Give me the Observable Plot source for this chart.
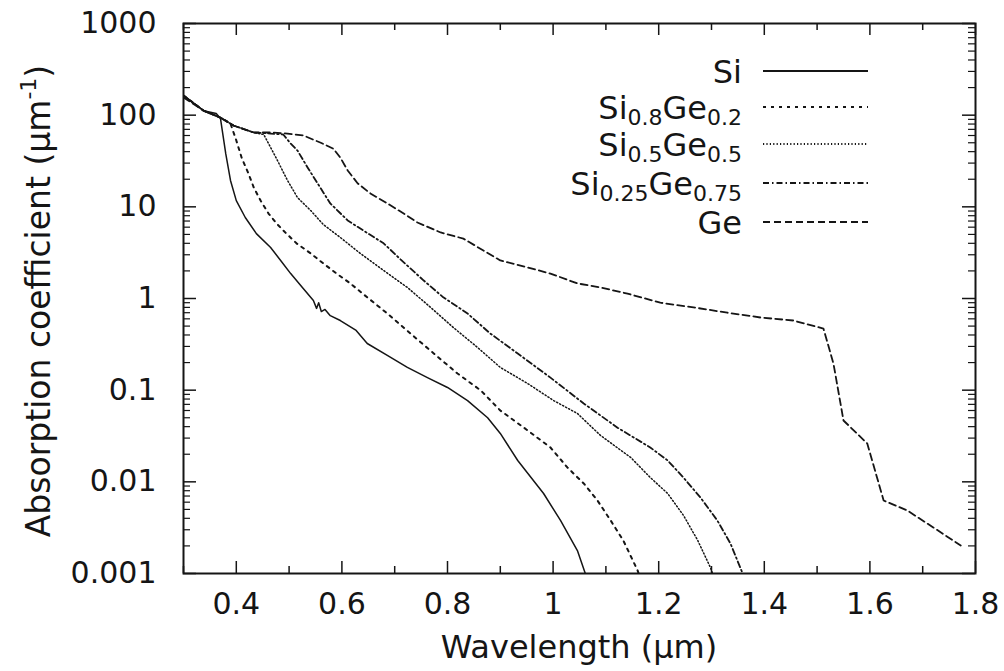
<!DOCTYPE html>
<html><head><meta charset="utf-8">
<script src="https://cdn.jsdelivr.net/npm/d3@7"></script>
<script src="https://cdn.jsdelivr.net/npm/@observablehq/plot@0.6"></script>
<style>
body{margin:0;background:#fff}
#wrap{position:relative;width:1004px;height:671px}
#wrap svg{position:absolute;left:0;top:0}
</style>
</head><body><div id="wrap"></div>
<script>
// ---- data (wavelength in µm, absorption coefficient in µm^-1) ----
const siW = [0.300,0.338,0.362,0.370,0.380,0.389,0.400,0.417,0.438,0.465,0.484,0.503,0.522,0.546,0.552,0.556,0.561,0.568,0.578,0.597,0.627,0.648,0.686,0.724,0.762,0.800,0.838,0.876,0.900,0.933,0.982,1.014,1.046,1.061];
const siA = [164,112,104,92,38,19.4,11.7,7.65,5.1,3.6,2.6,1.87,1.39,0.95,0.78,0.90,0.72,0.76,0.65,0.575,0.448,0.323,0.239,0.177,0.137,0.107,0.077,0.050,0.0337,0.0171,0.00746,0.00379,0.00178,0.001];

const s08W = [0.300,0.338,0.370,0.389,0.400,0.410,0.423,0.433,0.446,0.461,0.476,0.495,0.514,0.541,0.565,0.590,0.616,0.648,0.686,0.730,0.774,0.819,0.863,0.900,0.952,0.995,1.027,1.058,1.084,1.109,1.133,1.160,1.162];
const s08A = [164,112,94,81,53,34.5,23.1,16.3,11.7,8.45,6.6,5.1,4.0,3.1,2.41,1.87,1.46,1.03,0.686,0.415,0.251,0.152,0.0993,0.060,0.0363,0.0237,0.01435,0.0096,0.00626,0.00379,0.00229,0.00108,0.001];

const s05W = [0.300,0.338,0.370,0.395,0.433,0.452,0.465,0.478,0.497,0.516,0.541,0.565,0.597,0.635,0.679,0.724,0.768,0.811,0.857,0.900,0.952,1.001,1.046,1.090,1.147,1.184,1.217,1.247,1.274,1.298,1.302];
const s05A = [164,112,94,77,64.7,61.5,44.4,32,19.4,12.6,9.1,6.4,4.63,3.1,2.02,1.32,0.80,0.483,0.292,0.177,0.118,0.077,0.0557,0.032,0.01845,0.01115,0.00746,0.0043,0.00229,0.00116,0.001];

const s025W = [0.300,0.338,0.370,0.395,0.433,0.465,0.489,0.503,0.516,0.535,0.554,0.578,0.611,0.641,0.679,0.711,0.755,0.792,0.838,0.881,0.933,0.995,1.058,1.122,1.184,1.217,1.247,1.279,1.311,1.336,1.359];
const s025A = [164,112,94,77,64.7,63,61.5,49,41,26.9,18,10.9,7.1,5.5,4.0,2.67,1.57,1.03,0.686,0.415,0.251,0.137,0.0716,0.039,0.0237,0.0171,0.0111,0.00675,0.00379,0.00212,0.001];

const geW = [0.300,0.338,0.370,0.395,0.433,0.465,0.497,0.527,0.560,0.584,0.597,0.611,0.630,0.654,0.686,0.717,0.743,0.787,0.830,0.868,0.900,0.952,0.995,1.046,1.090,1.141,1.203,1.266,1.330,1.393,1.455,1.512,1.531,1.550,1.595,1.626,1.671,1.720,1.772];
const geA = [156,112,94,77,64.7,64.7,63,60,50,43,34.5,24.9,18,14,10.9,8.45,6.75,5.25,4.5,3.34,2.6,2.18,1.87,1.46,1.32,1.13,0.90,0.80,0.70,0.62,0.575,0.47,0.195,0.0467,0.0262,0.00626,0.00486,0.00318,0.00202];

const seriesNames = ["Si", "Si0.8Ge0.2", "Si0.5Ge0.5", "Si0.25Ge0.75", "Ge"];
const seriesData = [[siW, siA], [s08W, s08A], [s05W, s05A], [s025W, s025A], [geW, geA]];

const xTicks = [0.4, 0.6, 0.8, 1, 1.2, 1.4, 1.6, 1.8];
const xMinor = [0.3, 0.5, 0.7, 0.9, 1.1, 1.3, 1.5, 1.7];
const yTicks = [0.001, 0.01, 0.1, 1, 10, 100, 1000];
const yTickLabels = ["0.001", "0.01", "0.1", "1", "10", "100", "1000"];

// ---- styles ----
const dashes = [null, "3,5", "1.2,2.2", "6,3,1.5,3", "7,4"];
const widths = [1.5, 2, 1.5, 1.8, 1.8];
const ink = "#151515";
const W = 1004, H = 671;
const mL = 183, mR = 29, mT = 23, mB = 98;
const PW = W - mL - mR, PH = H - mT - mB;

const yMinor = [];
for (let e = -3; e < 3; e++) for (let k = 2; k <= 9; k++) yMinor.push(k * Math.pow(10, e));

const lineMarks = seriesData.map(([w, a], i) => {
  const rows = w.map((x, j) => ({w: x, a: a[j]}));
  return Plot.line(rows, {x: "w", y: "a", stroke: ink, strokeWidth: widths[i],
    strokeDasharray: dashes[i] || undefined, curve: "linear", clip: true});
});

const plot = Plot.plot({
  width: W, height: H,
  marginLeft: mL, marginRight: mR, marginTop: mT, marginBottom: mB,
  style: {fontFamily: "DejaVu Sans", fontSize: "30px", color: ink, background: "transparent"},
  x: {domain: [0.3, 1.8], label: null},
  y: {type: "log", domain: [0.001, 1000], label: null},
  marks: [
    ...lineMarks,
    // inward ticks
    Plot.tickX(xTicks, {x: d => d, insetTop: PH - 12, stroke: ink, strokeWidth: 1.5}),
    Plot.tickX(xMinor, {x: d => d, insetTop: PH - 7, stroke: ink, strokeWidth: 1.5}),
    Plot.tickX(xTicks, {x: d => d, insetBottom: PH - 12, stroke: ink, strokeWidth: 1.5}),
    Plot.tickX(xMinor, {x: d => d, insetBottom: PH - 7, stroke: ink, strokeWidth: 1.5}),
    Plot.tickY(yTicks, {y: d => d, insetRight: PW - 13, stroke: ink, strokeWidth: 1.5}),
    Plot.tickY(yMinor, {y: d => d, insetRight: PW - 7, stroke: ink, strokeWidth: 1.2}),
    Plot.tickY(yTicks, {y: d => d, insetLeft: PW - 13, stroke: ink, strokeWidth: 1.5}),
    Plot.tickY(yMinor, {y: d => d, insetLeft: PW - 7, stroke: ink, strokeWidth: 1.2}),
    Plot.frame({stroke: ink, strokeWidth: 2}),
    Plot.axisX(xTicks, {anchor: "bottom", tickSize: 0, tickPadding: 19, tickFormat: d => String(d), label: null}),
    Plot.axisY(yTicks, {anchor: "left", tickSize: 0, tickPadding: 27, tickFormat: d => yTickLabels[yTicks.indexOf(d)], label: null})
  ]
});

const wrap = document.getElementById("wrap");
wrap.appendChild(plot);

// ---- overlay: axis titles and legend ----
const ov = d3.select(wrap).append("svg")
  .attr("width", W).attr("height", H)
  .style("font-family", "DejaVu Sans").style("pointer-events", "none");

ov.append("text").attr("x", mL + PW / 2).attr("y", 658)
  .attr("text-anchor", "middle").attr("font-size", 32).attr("fill", ink)
  .text("Wavelength (µm)");

const yt = ov.append("text").attr("transform", "translate(50,301) rotate(-90)")
  .attr("text-anchor", "middle").attr("font-size", 33).attr("fill", ink);
yt.append("tspan").text("Absorption coefficient (µm");
yt.append("tspan").attr("font-size", 22).attr("dy", -14).text("-1");
yt.append("tspan").attr("dy", 14).text(")");

const legendParts = [
  [["Si", 0]],
  [["Si", 0], ["0.8", 1], ["Ge", 0], ["0.2", 1]],
  [["Si", 0], ["0.5", 1], ["Ge", 0], ["0.5", 1]],
  [["Si", 0], ["0.25", 1], ["Ge", 0], ["0.75", 1]],
  [["Ge", 0]]
];
const baselines = [83, 119, 156, 195, 234];
legendParts.forEach((parts, i) => {
  const t = ov.append("text").attr("x", 742).attr("y", baselines[i])
    .attr("text-anchor", "end").attr("font-size", 32).attr("fill", ink);
  let sub = 0;
  parts.forEach(([s, isSub]) => {
    const ts = t.append("tspan").text(s);
    if (isSub && !sub) { ts.attr("font-size", 22).attr("dy", 6); sub = 1; }
    else if (isSub) { ts.attr("font-size", 22); }
    else if (sub) { ts.attr("dy", -6); sub = 0; }
  });
  const ly = baselines[i] - 12;
  ov.append("line").attr("x1", 763).attr("x2", 868).attr("y1", ly).attr("y2", ly)
    .attr("stroke", ink).attr("stroke-width", i === 0 ? 2 : 1.8)
    .attr("stroke-dasharray", dashes[i]);
});
</script>
</body></html>
